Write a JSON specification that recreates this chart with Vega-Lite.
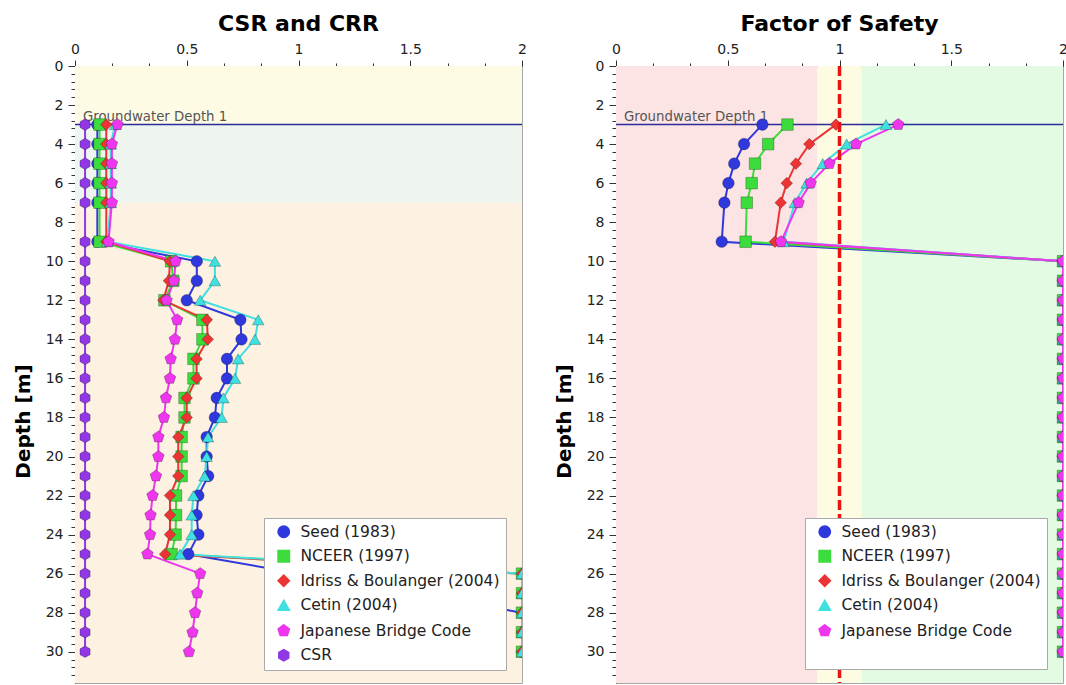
{
  "$schema": "https://vega.github.io/schema/vega-lite/v6.json",
  "background": "white",
  "padding": {"left": 12, "top": 12, "right": 0, "bottom": 0},
  "spacing": 26,
  "config": {
    "font": "DejaVu Sans",
    "view": {"stroke": "#a8a8a8", "strokeWidth": 1},
    "axis": {"labelFont": "DejaVu Sans", "labelFontSize": 14, "labelColor": "#222", "domainColor": "#333", "tickColor": "#333", "grid": false, "titleFont": "DejaVu Sans", "titleFontSize": 20, "titleFontWeight": "bold", "titleColor": "#000", "labelFlush": false, "labelOverlap": false},
    "title": {"font": "DejaVu Sans", "fontSize": 22, "fontWeight": "bold", "color": "#000", "offset": 6},
    "legend": {"labelLimit": 400}
  },
  "resolve": {"scale": {"color": "independent", "shape": "independent", "fill": "independent"}, "legend": {"color": "independent", "shape": "independent"}},
  "datasets": {
    "crr": [
      {"series": "Seed (1983)", "depth": 3, "value": 0.1},
      {"series": "Seed (1983)", "depth": 4, "value": 0.1},
      {"series": "Seed (1983)", "depth": 5, "value": 0.1},
      {"series": "Seed (1983)", "depth": 6, "value": 0.1},
      {"series": "Seed (1983)", "depth": 7, "value": 0.1},
      {"series": "Seed (1983)", "depth": 9, "value": 0.1},
      {"series": "Seed (1983)", "depth": 10, "value": 0.545},
      {"series": "Seed (1983)", "depth": 11, "value": 0.545},
      {"series": "Seed (1983)", "depth": 12, "value": 0.5},
      {"series": "Seed (1983)", "depth": 13, "value": 0.74},
      {"series": "Seed (1983)", "depth": 14, "value": 0.745},
      {"series": "Seed (1983)", "depth": 15, "value": 0.68},
      {"series": "Seed (1983)", "depth": 16, "value": 0.68},
      {"series": "Seed (1983)", "depth": 17, "value": 0.634},
      {"series": "Seed (1983)", "depth": 18, "value": 0.626},
      {"series": "Seed (1983)", "depth": 19, "value": 0.589},
      {"series": "Seed (1983)", "depth": 20, "value": 0.589},
      {"series": "Seed (1983)", "depth": 21, "value": 0.596},
      {"series": "Seed (1983)", "depth": 22, "value": 0.552},
      {"series": "Seed (1983)", "depth": 23, "value": 0.544},
      {"series": "Seed (1983)", "depth": 24, "value": 0.552},
      {"series": "Seed (1983)", "depth": 25, "value": 0.507},
      {"series": "Seed (1983)", "depth": 28, "value": 2},
      {"series": "Seed (1983)", "depth": 29, "value": 2},
      {"series": "Seed (1983)", "depth": 30, "value": 2},
      {"series": "NCEER (1997)", "depth": 3, "value": 0.11},
      {"series": "NCEER (1997)", "depth": 4, "value": 0.11},
      {"series": "NCEER (1997)", "depth": 5, "value": 0.11},
      {"series": "NCEER (1997)", "depth": 6, "value": 0.11},
      {"series": "NCEER (1997)", "depth": 7, "value": 0.11},
      {"series": "NCEER (1997)", "depth": 9, "value": 0.11},
      {"series": "NCEER (1997)", "depth": 10, "value": 0.43},
      {"series": "NCEER (1997)", "depth": 11, "value": 0.44},
      {"series": "NCEER (1997)", "depth": 12, "value": 0.4},
      {"series": "NCEER (1997)", "depth": 13, "value": 0.57},
      {"series": "NCEER (1997)", "depth": 14, "value": 0.57},
      {"series": "NCEER (1997)", "depth": 15, "value": 0.53},
      {"series": "NCEER (1997)", "depth": 16, "value": 0.53},
      {"series": "NCEER (1997)", "depth": 17, "value": 0.49},
      {"series": "NCEER (1997)", "depth": 18, "value": 0.49},
      {"series": "NCEER (1997)", "depth": 19, "value": 0.477},
      {"series": "NCEER (1997)", "depth": 20, "value": 0.477},
      {"series": "NCEER (1997)", "depth": 21, "value": 0.477},
      {"series": "NCEER (1997)", "depth": 22, "value": 0.452},
      {"series": "NCEER (1997)", "depth": 23, "value": 0.452},
      {"series": "NCEER (1997)", "depth": 24, "value": 0.45},
      {"series": "NCEER (1997)", "depth": 25, "value": 0.432},
      {"series": "NCEER (1997)", "depth": 26, "value": 2},
      {"series": "NCEER (1997)", "depth": 27, "value": 2},
      {"series": "NCEER (1997)", "depth": 28, "value": 2},
      {"series": "NCEER (1997)", "depth": 29, "value": 2},
      {"series": "NCEER (1997)", "depth": 30, "value": 2},
      {"series": "Idriss & Boulanger (2004)", "depth": 3, "value": 0.14},
      {"series": "Idriss & Boulanger (2004)", "depth": 4, "value": 0.14},
      {"series": "Idriss & Boulanger (2004)", "depth": 5, "value": 0.14},
      {"series": "Idriss & Boulanger (2004)", "depth": 6, "value": 0.14},
      {"series": "Idriss & Boulanger (2004)", "depth": 7, "value": 0.14},
      {"series": "Idriss & Boulanger (2004)", "depth": 9, "value": 0.14},
      {"series": "Idriss & Boulanger (2004)", "depth": 10, "value": 0.425},
      {"series": "Idriss & Boulanger (2004)", "depth": 11, "value": 0.42},
      {"series": "Idriss & Boulanger (2004)", "depth": 12, "value": 0.395},
      {"series": "Idriss & Boulanger (2004)", "depth": 13, "value": 0.59},
      {"series": "Idriss & Boulanger (2004)", "depth": 14, "value": 0.594},
      {"series": "Idriss & Boulanger (2004)", "depth": 15, "value": 0.544},
      {"series": "Idriss & Boulanger (2004)", "depth": 16, "value": 0.544},
      {"series": "Idriss & Boulanger (2004)", "depth": 17, "value": 0.5},
      {"series": "Idriss & Boulanger (2004)", "depth": 18, "value": 0.5},
      {"series": "Idriss & Boulanger (2004)", "depth": 19, "value": 0.462},
      {"series": "Idriss & Boulanger (2004)", "depth": 20, "value": 0.462},
      {"series": "Idriss & Boulanger (2004)", "depth": 21, "value": 0.462},
      {"series": "Idriss & Boulanger (2004)", "depth": 22, "value": 0.425},
      {"series": "Idriss & Boulanger (2004)", "depth": 23, "value": 0.425},
      {"series": "Idriss & Boulanger (2004)", "depth": 24, "value": 0.425},
      {"series": "Idriss & Boulanger (2004)", "depth": 25, "value": 0.403},
      {"series": "Idriss & Boulanger (2004)", "depth": 26, "value": 2},
      {"series": "Idriss & Boulanger (2004)", "depth": 27, "value": 2},
      {"series": "Idriss & Boulanger (2004)", "depth": 28, "value": 2},
      {"series": "Idriss & Boulanger (2004)", "depth": 29, "value": 2},
      {"series": "Idriss & Boulanger (2004)", "depth": 30, "value": 2},
      {"series": "Cetin (2004)", "depth": 3, "value": 0.18},
      {"series": "Cetin (2004)", "depth": 4, "value": 0.16},
      {"series": "Cetin (2004)", "depth": 5, "value": 0.16},
      {"series": "Cetin (2004)", "depth": 6, "value": 0.16},
      {"series": "Cetin (2004)", "depth": 7, "value": 0.16},
      {"series": "Cetin (2004)", "depth": 9, "value": 0.145},
      {"series": "Cetin (2004)", "depth": 10, "value": 0.626},
      {"series": "Cetin (2004)", "depth": 11, "value": 0.626},
      {"series": "Cetin (2004)", "depth": 12, "value": 0.56},
      {"series": "Cetin (2004)", "depth": 13, "value": 0.82},
      {"series": "Cetin (2004)", "depth": 14, "value": 0.805},
      {"series": "Cetin (2004)", "depth": 15, "value": 0.73},
      {"series": "Cetin (2004)", "depth": 16, "value": 0.716},
      {"series": "Cetin (2004)", "depth": 17, "value": 0.664},
      {"series": "Cetin (2004)", "depth": 18, "value": 0.656},
      {"series": "Cetin (2004)", "depth": 19, "value": 0.595},
      {"series": "Cetin (2004)", "depth": 20, "value": 0.589},
      {"series": "Cetin (2004)", "depth": 21, "value": 0.58},
      {"series": "Cetin (2004)", "depth": 22, "value": 0.53},
      {"series": "Cetin (2004)", "depth": 23, "value": 0.522},
      {"series": "Cetin (2004)", "depth": 24, "value": 0.522},
      {"series": "Cetin (2004)", "depth": 25, "value": 0.47},
      {"series": "Cetin (2004)", "depth": 26, "value": 2},
      {"series": "Cetin (2004)", "depth": 27, "value": 2},
      {"series": "Cetin (2004)", "depth": 28, "value": 2},
      {"series": "Cetin (2004)", "depth": 29, "value": 2},
      {"series": "Cetin (2004)", "depth": 30, "value": 2},
      {"series": "Japanese Bridge Code", "depth": 3, "value": 0.19},
      {"series": "Japanese Bridge Code", "depth": 4, "value": 0.165},
      {"series": "Japanese Bridge Code", "depth": 5, "value": 0.165},
      {"series": "Japanese Bridge Code", "depth": 6, "value": 0.165},
      {"series": "Japanese Bridge Code", "depth": 7, "value": 0.165},
      {"series": "Japanese Bridge Code", "depth": 9, "value": 0.15},
      {"series": "Japanese Bridge Code", "depth": 10, "value": 0.45},
      {"series": "Japanese Bridge Code", "depth": 11, "value": 0.443},
      {"series": "Japanese Bridge Code", "depth": 12, "value": 0.41},
      {"series": "Japanese Bridge Code", "depth": 13, "value": 0.457},
      {"series": "Japanese Bridge Code", "depth": 14, "value": 0.447},
      {"series": "Japanese Bridge Code", "depth": 15, "value": 0.428},
      {"series": "Japanese Bridge Code", "depth": 16, "value": 0.425},
      {"series": "Japanese Bridge Code", "depth": 17, "value": 0.407},
      {"series": "Japanese Bridge Code", "depth": 18, "value": 0.398},
      {"series": "Japanese Bridge Code", "depth": 19, "value": 0.373},
      {"series": "Japanese Bridge Code", "depth": 20, "value": 0.373},
      {"series": "Japanese Bridge Code", "depth": 21, "value": 0.362},
      {"series": "Japanese Bridge Code", "depth": 22, "value": 0.347},
      {"series": "Japanese Bridge Code", "depth": 23, "value": 0.338},
      {"series": "Japanese Bridge Code", "depth": 24, "value": 0.336},
      {"series": "Japanese Bridge Code", "depth": 25, "value": 0.324},
      {"series": "Japanese Bridge Code", "depth": 26, "value": 0.56},
      {"series": "Japanese Bridge Code", "depth": 27, "value": 0.547},
      {"series": "Japanese Bridge Code", "depth": 28, "value": 0.537},
      {"series": "Japanese Bridge Code", "depth": 29, "value": 0.526},
      {"series": "Japanese Bridge Code", "depth": 30, "value": 0.51},
      {"series": "CSR", "depth": 3, "value": 0.045},
      {"series": "CSR", "depth": 4, "value": 0.045},
      {"series": "CSR", "depth": 5, "value": 0.045},
      {"series": "CSR", "depth": 6, "value": 0.045},
      {"series": "CSR", "depth": 7, "value": 0.045},
      {"series": "CSR", "depth": 9, "value": 0.045},
      {"series": "CSR", "depth": 10, "value": 0.045},
      {"series": "CSR", "depth": 11, "value": 0.045},
      {"series": "CSR", "depth": 12, "value": 0.045},
      {"series": "CSR", "depth": 13, "value": 0.045},
      {"series": "CSR", "depth": 14, "value": 0.045},
      {"series": "CSR", "depth": 15, "value": 0.045},
      {"series": "CSR", "depth": 16, "value": 0.045},
      {"series": "CSR", "depth": 17, "value": 0.045},
      {"series": "CSR", "depth": 18, "value": 0.045},
      {"series": "CSR", "depth": 19, "value": 0.045},
      {"series": "CSR", "depth": 20, "value": 0.045},
      {"series": "CSR", "depth": 21, "value": 0.045},
      {"series": "CSR", "depth": 22, "value": 0.045},
      {"series": "CSR", "depth": 23, "value": 0.045},
      {"series": "CSR", "depth": 24, "value": 0.045},
      {"series": "CSR", "depth": 25, "value": 0.045},
      {"series": "CSR", "depth": 26, "value": 0.045},
      {"series": "CSR", "depth": 27, "value": 0.045},
      {"series": "CSR", "depth": 28, "value": 0.045},
      {"series": "CSR", "depth": 29, "value": 0.045},
      {"series": "CSR", "depth": 30, "value": 0.045}
    ],
    "fs": [
      {"series": "Seed (1983)", "depth": 3, "value": 0.655},
      {"series": "Seed (1983)", "depth": 4, "value": 0.573},
      {"series": "Seed (1983)", "depth": 5, "value": 0.529},
      {"series": "Seed (1983)", "depth": 6, "value": 0.503},
      {"series": "Seed (1983)", "depth": 7, "value": 0.485},
      {"series": "Seed (1983)", "depth": 9, "value": 0.473},
      {"series": "Seed (1983)", "depth": 10, "value": 2},
      {"series": "Seed (1983)", "depth": 11, "value": 2},
      {"series": "Seed (1983)", "depth": 12, "value": 2},
      {"series": "Seed (1983)", "depth": 13, "value": 2},
      {"series": "Seed (1983)", "depth": 14, "value": 2},
      {"series": "Seed (1983)", "depth": 15, "value": 2},
      {"series": "Seed (1983)", "depth": 16, "value": 2},
      {"series": "Seed (1983)", "depth": 17, "value": 2},
      {"series": "Seed (1983)", "depth": 18, "value": 2},
      {"series": "Seed (1983)", "depth": 19, "value": 2},
      {"series": "Seed (1983)", "depth": 20, "value": 2},
      {"series": "Seed (1983)", "depth": 21, "value": 2},
      {"series": "Seed (1983)", "depth": 22, "value": 2},
      {"series": "Seed (1983)", "depth": 23, "value": 2},
      {"series": "Seed (1983)", "depth": 24, "value": 2},
      {"series": "Seed (1983)", "depth": 25, "value": 2},
      {"series": "Seed (1983)", "depth": 26, "value": 2},
      {"series": "Seed (1983)", "depth": 27, "value": 2},
      {"series": "Seed (1983)", "depth": 28, "value": 2},
      {"series": "Seed (1983)", "depth": 29, "value": 2},
      {"series": "Seed (1983)", "depth": 30, "value": 2},
      {"series": "NCEER (1997)", "depth": 3, "value": 0.767},
      {"series": "NCEER (1997)", "depth": 4, "value": 0.681},
      {"series": "NCEER (1997)", "depth": 5, "value": 0.622},
      {"series": "NCEER (1997)", "depth": 6, "value": 0.607},
      {"series": "NCEER (1997)", "depth": 7, "value": 0.585},
      {"series": "NCEER (1997)", "depth": 9, "value": 0.58},
      {"series": "NCEER (1997)", "depth": 10, "value": 2},
      {"series": "NCEER (1997)", "depth": 11, "value": 2},
      {"series": "NCEER (1997)", "depth": 12, "value": 2},
      {"series": "NCEER (1997)", "depth": 13, "value": 2},
      {"series": "NCEER (1997)", "depth": 14, "value": 2},
      {"series": "NCEER (1997)", "depth": 15, "value": 2},
      {"series": "NCEER (1997)", "depth": 16, "value": 2},
      {"series": "NCEER (1997)", "depth": 17, "value": 2},
      {"series": "NCEER (1997)", "depth": 18, "value": 2},
      {"series": "NCEER (1997)", "depth": 19, "value": 2},
      {"series": "NCEER (1997)", "depth": 20, "value": 2},
      {"series": "NCEER (1997)", "depth": 21, "value": 2},
      {"series": "NCEER (1997)", "depth": 22, "value": 2},
      {"series": "NCEER (1997)", "depth": 23, "value": 2},
      {"series": "NCEER (1997)", "depth": 24, "value": 2},
      {"series": "NCEER (1997)", "depth": 25, "value": 2},
      {"series": "NCEER (1997)", "depth": 26, "value": 2},
      {"series": "NCEER (1997)", "depth": 27, "value": 2},
      {"series": "NCEER (1997)", "depth": 28, "value": 2},
      {"series": "NCEER (1997)", "depth": 29, "value": 2},
      {"series": "NCEER (1997)", "depth": 30, "value": 2},
      {"series": "Idriss & Boulanger (2004)", "depth": 3, "value": 0.984},
      {"series": "Idriss & Boulanger (2004)", "depth": 4, "value": 0.865},
      {"series": "Idriss & Boulanger (2004)", "depth": 5, "value": 0.805},
      {"series": "Idriss & Boulanger (2004)", "depth": 6, "value": 0.764},
      {"series": "Idriss & Boulanger (2004)", "depth": 7, "value": 0.737},
      {"series": "Idriss & Boulanger (2004)", "depth": 9, "value": 0.711},
      {"series": "Idriss & Boulanger (2004)", "depth": 10, "value": 2},
      {"series": "Idriss & Boulanger (2004)", "depth": 11, "value": 2},
      {"series": "Idriss & Boulanger (2004)", "depth": 12, "value": 2},
      {"series": "Idriss & Boulanger (2004)", "depth": 13, "value": 2},
      {"series": "Idriss & Boulanger (2004)", "depth": 14, "value": 2},
      {"series": "Idriss & Boulanger (2004)", "depth": 15, "value": 2},
      {"series": "Idriss & Boulanger (2004)", "depth": 16, "value": 2},
      {"series": "Idriss & Boulanger (2004)", "depth": 17, "value": 2},
      {"series": "Idriss & Boulanger (2004)", "depth": 18, "value": 2},
      {"series": "Idriss & Boulanger (2004)", "depth": 19, "value": 2},
      {"series": "Idriss & Boulanger (2004)", "depth": 20, "value": 2},
      {"series": "Idriss & Boulanger (2004)", "depth": 21, "value": 2},
      {"series": "Idriss & Boulanger (2004)", "depth": 22, "value": 2},
      {"series": "Idriss & Boulanger (2004)", "depth": 23, "value": 2},
      {"series": "Idriss & Boulanger (2004)", "depth": 24, "value": 2},
      {"series": "Idriss & Boulanger (2004)", "depth": 25, "value": 2},
      {"series": "Idriss & Boulanger (2004)", "depth": 26, "value": 2},
      {"series": "Idriss & Boulanger (2004)", "depth": 27, "value": 2},
      {"series": "Idriss & Boulanger (2004)", "depth": 28, "value": 2},
      {"series": "Idriss & Boulanger (2004)", "depth": 29, "value": 2},
      {"series": "Idriss & Boulanger (2004)", "depth": 30, "value": 2},
      {"series": "Cetin (2004)", "depth": 3, "value": 1.208},
      {"series": "Cetin (2004)", "depth": 4, "value": 1.032},
      {"series": "Cetin (2004)", "depth": 5, "value": 0.925},
      {"series": "Cetin (2004)", "depth": 6, "value": 0.853},
      {"series": "Cetin (2004)", "depth": 7, "value": 0.8},
      {"series": "Cetin (2004)", "depth": 9, "value": 0.75},
      {"series": "Cetin (2004)", "depth": 10, "value": 2},
      {"series": "Cetin (2004)", "depth": 11, "value": 2},
      {"series": "Cetin (2004)", "depth": 12, "value": 2},
      {"series": "Cetin (2004)", "depth": 13, "value": 2},
      {"series": "Cetin (2004)", "depth": 14, "value": 2},
      {"series": "Cetin (2004)", "depth": 15, "value": 2},
      {"series": "Cetin (2004)", "depth": 16, "value": 2},
      {"series": "Cetin (2004)", "depth": 17, "value": 2},
      {"series": "Cetin (2004)", "depth": 18, "value": 2},
      {"series": "Cetin (2004)", "depth": 19, "value": 2},
      {"series": "Cetin (2004)", "depth": 20, "value": 2},
      {"series": "Cetin (2004)", "depth": 21, "value": 2},
      {"series": "Cetin (2004)", "depth": 22, "value": 2},
      {"series": "Cetin (2004)", "depth": 23, "value": 2},
      {"series": "Cetin (2004)", "depth": 24, "value": 2},
      {"series": "Cetin (2004)", "depth": 25, "value": 2},
      {"series": "Cetin (2004)", "depth": 26, "value": 2},
      {"series": "Cetin (2004)", "depth": 27, "value": 2},
      {"series": "Cetin (2004)", "depth": 28, "value": 2},
      {"series": "Cetin (2004)", "depth": 29, "value": 2},
      {"series": "Cetin (2004)", "depth": 30, "value": 2},
      {"series": "Japanese Bridge Code", "depth": 3, "value": 1.263},
      {"series": "Japanese Bridge Code", "depth": 4, "value": 1.074},
      {"series": "Japanese Bridge Code", "depth": 5, "value": 0.955},
      {"series": "Japanese Bridge Code", "depth": 6, "value": 0.871},
      {"series": "Japanese Bridge Code", "depth": 7, "value": 0.817},
      {"series": "Japanese Bridge Code", "depth": 9, "value": 0.738},
      {"series": "Japanese Bridge Code", "depth": 10, "value": 2},
      {"series": "Japanese Bridge Code", "depth": 11, "value": 2},
      {"series": "Japanese Bridge Code", "depth": 12, "value": 2},
      {"series": "Japanese Bridge Code", "depth": 13, "value": 2},
      {"series": "Japanese Bridge Code", "depth": 14, "value": 2},
      {"series": "Japanese Bridge Code", "depth": 15, "value": 2},
      {"series": "Japanese Bridge Code", "depth": 16, "value": 2},
      {"series": "Japanese Bridge Code", "depth": 17, "value": 2},
      {"series": "Japanese Bridge Code", "depth": 18, "value": 2},
      {"series": "Japanese Bridge Code", "depth": 19, "value": 2},
      {"series": "Japanese Bridge Code", "depth": 20, "value": 2},
      {"series": "Japanese Bridge Code", "depth": 21, "value": 2},
      {"series": "Japanese Bridge Code", "depth": 22, "value": 2},
      {"series": "Japanese Bridge Code", "depth": 23, "value": 2},
      {"series": "Japanese Bridge Code", "depth": 24, "value": 2},
      {"series": "Japanese Bridge Code", "depth": 25, "value": 2},
      {"series": "Japanese Bridge Code", "depth": 26, "value": 2},
      {"series": "Japanese Bridge Code", "depth": 27, "value": 2},
      {"series": "Japanese Bridge Code", "depth": 28, "value": 2},
      {"series": "Japanese Bridge Code", "depth": 29, "value": 2},
      {"series": "Japanese Bridge Code", "depth": 30, "value": 2}
    ]
  },
  "hconcat": [
    {
      "title": "CSR and CRR",
      "width": 447,
      "height": 617,
      "layer": [
        {
          "data": {"values": [{"zone": "above", "top": 0, "bottom": 3}, {"zone": "upper", "top": 3, "bottom": 7}, {"zone": "lower", "top": 7, "bottom": 31.6}]},
          "mark": {"type": "rect"},
          "encoding": {
            "x": {"datum": 0, "type": "quantitative", "title": null, "scale": {"domain": [0, 2], "nice": false, "zero": false},
              "axis": {"orient": "top", "title": null, "labelOverlap": false, "tickCount": 1000, "values": [0, 0.16667, 0.33333, 0.5, 0.66667, 0.83333, 1, 1.16667, 1.33333, 1.5, 1.66667, 1.83333, 2],
                "labelExpr": "abs(datum.value*2-round(datum.value*2))<0.001 ? toString(round(datum.value*2)/2) : ''",
                "tickSize": {"condition": {"test": "abs(datum.value*2-round(datum.value*2))<0.001", "value": 6}, "value": 3}, "labelPadding": 4}},
            "x2": {"datum": 2},
            "y": {"field": "top", "type": "quantitative", "title": "Depth [m]", "scale": {"domain": [0, 31.6], "reverse": true, "nice": false, "zero": false},
              "axis": {"orient": "left", "title": "Depth [m]", "titlePadding": 12, "titleY": 355, "labelOverlap": false, "tickCount": 1000,
                "values": [0,0.4,0.8,1.2,1.6,2,2.4,2.8,3.2,3.6,4,4.4,4.8,5.2,5.6,6,6.4,6.8,7.2,7.6,8,8.4,8.8,9.2,9.6,10,10.4,10.8,11.2,11.6,12,12.4,12.8,13.2,13.6,14,14.4,14.8,15.2,15.6,16,16.4,16.8,17.2,17.6,18,18.4,18.8,19.2,19.6,20,20.4,20.8,21.2,21.6,22,22.4,22.8,23.2,23.6,24,24.4,24.8,25.2,25.6,26,26.4,26.8,27.2,27.6,28,28.4,28.8,29.2,29.6,30,30.4,30.8,31.2],
                "labelExpr": "datum.value % 2 === 0 ? toString(datum.value) : ''",
                "tickSize": {"condition": {"test": "datum.value % 2 === 0", "value": 7}, "value": 4}, "labelPadding": 5}},
            "y2": {"field": "bottom"},
            "fill": {"field": "zone", "type": "nominal", "scale": {"domain": ["above", "upper", "lower"], "range": ["#fdfbe3", "#edf5ee", "#fdf1e2"]}, "legend": null}
          }
        },
        {
          "data": {"values": [{"label": "Groundwater Depth 1", "depth": 3}]},
          "mark": {"type": "rule", "color": "#2b2b9c", "strokeWidth": 1.5},
          "encoding": {"y": {"field": "depth", "type": "quantitative", "title": "Depth [m]"}}
        },
        {
          "data": {"values": [{"label": "Groundwater Depth 1", "depth": 3}]},
          "mark": {"type": "text", "align": "left", "baseline": "alphabetic", "dx": 8, "dy": -4, "fontSize": 13.3, "color": "#555"},
          "encoding": {"x": {"datum": 0, "type": "quantitative", "title": null}, "y": {"field": "depth", "type": "quantitative", "title": "Depth [m]"}, "text": {"field": "label"}}
        },
        {
          "data": {"name": "crr"},
          "mark": {"type": "line", "strokeWidth": 2, "clip": true, "point": {"filled": true, "size": 135, "stroke": "#000", "strokeOpacity": 0.25, "strokeWidth": 1, "clip": true}},
          "encoding": {
            "x": {"field": "value", "type": "quantitative", "title": null},
            "y": {"field": "depth", "type": "quantitative", "title": "Depth [m]"},
            "order": {"field": "depth"},
            "color": {"field": "series", "type": "nominal",
              "scale": {"domain": ["Seed (1983)", "NCEER (1997)", "Idriss & Boulanger (2004)", "Cetin (2004)", "Japanese Bridge Code", "CSR"], "range": ["#2f38dc", "#3cdc3c", "#ec3434", "#3ee0e0", "#ee36ee", "#9038e6"]},
              "legend": {"orient": "none", "legendX": 189, "legendY": 452, "title": null, "fillColor": "white", "strokeColor": "#aaa", "padding": 6, "labelFontSize": 15.5, "labelFont": "DejaVu Sans", "labelColor": "#222", "symbolSize": 130, "rowPadding": 6.5, "symbolOffset": 6, "labelOffset": 9, "labelLimit": 400}},
            "shape": {"field": "series", "type": "nominal",
              "scale": {"domain": ["Seed (1983)", "NCEER (1997)", "Idriss & Boulanger (2004)", "Cetin (2004)", "Japanese Bridge Code", "CSR"], "range": ["circle", "square", "diamond", "triangle-up", "M0,-1.05L1,-0.32L0.62,0.85L-0.62,0.85L-1,-0.32Z", "M0,-1L0.87,-0.5L0.87,0.5L0,1L-0.87,0.5L-0.87,-0.5Z"]},
              "legend": {"orient": "none", "legendX": 189, "legendY": 452, "title": null, "fillColor": "white", "strokeColor": "#aaa", "padding": 6, "labelFontSize": 15.5, "labelFont": "DejaVu Sans", "labelColor": "#222", "symbolSize": 130, "rowPadding": 6.5, "symbolOffset": 6, "labelOffset": 9, "labelLimit": 400}}
          }
        }
      ]
    },
    {
      "title": "Factor of Safety",
      "width": 447,
      "height": 617,
      "layer": [
        {
          "data": {"values": [{"zone": "unsafe", "from": 0, "to": 0.9}, {"zone": "marginal", "from": 0.9, "to": 1.1}, {"zone": "safe", "from": 1.1, "to": 2}]},
          "mark": {"type": "rect"},
          "encoding": {
            "x": {"field": "from", "type": "quantitative", "title": null, "scale": {"domain": [0, 2], "nice": false, "zero": false},
              "axis": {"orient": "top", "title": null, "labelOverlap": false, "tickCount": 1000, "values": [0, 0.16667, 0.33333, 0.5, 0.66667, 0.83333, 1, 1.16667, 1.33333, 1.5, 1.66667, 1.83333, 2],
                "labelExpr": "abs(datum.value*2-round(datum.value*2))<0.001 ? toString(round(datum.value*2)/2) : ''",
                "tickSize": {"condition": {"test": "abs(datum.value*2-round(datum.value*2))<0.001", "value": 6}, "value": 3}, "labelPadding": 4}},
            "x2": {"field": "to"},
            "y": {"datum": 0, "type": "quantitative", "title": "Depth [m]", "scale": {"domain": [0, 31.6], "reverse": true, "nice": false, "zero": false},
              "axis": {"orient": "left", "title": "Depth [m]", "titlePadding": 12, "titleY": 355, "labelOverlap": false, "tickCount": 1000,
                "values": [0,0.4,0.8,1.2,1.6,2,2.4,2.8,3.2,3.6,4,4.4,4.8,5.2,5.6,6,6.4,6.8,7.2,7.6,8,8.4,8.8,9.2,9.6,10,10.4,10.8,11.2,11.6,12,12.4,12.8,13.2,13.6,14,14.4,14.8,15.2,15.6,16,16.4,16.8,17.2,17.6,18,18.4,18.8,19.2,19.6,20,20.4,20.8,21.2,21.6,22,22.4,22.8,23.2,23.6,24,24.4,24.8,25.2,25.6,26,26.4,26.8,27.2,27.6,28,28.4,28.8,29.2,29.6,30,30.4,30.8,31.2],
                "labelExpr": "datum.value % 2 === 0 ? toString(datum.value) : ''",
                "tickSize": {"condition": {"test": "datum.value % 2 === 0", "value": 7}, "value": 4}, "labelPadding": 5}},
            "y2": {"datum": 31.6},
            "fill": {"field": "zone", "type": "nominal", "scale": {"domain": ["unsafe", "marginal", "safe"], "range": ["#fde4e4", "#fdfbe1", "#e4fbe3"]}, "legend": null}
          }
        },
        {
          "data": {"values": [{"label": "Groundwater Depth 1", "depth": 3}]},
          "mark": {"type": "rule", "color": "#2b2b9c", "strokeWidth": 1.5},
          "encoding": {"y": {"field": "depth", "type": "quantitative", "title": "Depth [m]"}}
        },
        {
          "data": {"values": [{"label": "Groundwater Depth 1", "depth": 3}]},
          "mark": {"type": "text", "align": "left", "baseline": "alphabetic", "dx": 8, "dy": -4, "fontSize": 13.3, "color": "#555"},
          "encoding": {"x": {"datum": 0, "type": "quantitative", "title": null}, "y": {"field": "depth", "type": "quantitative", "title": "Depth [m]"}, "text": {"field": "label"}}
        },
        {
          "data": {"name": "fs"},
          "mark": {"type": "line", "strokeWidth": 2, "clip": true, "point": {"filled": true, "size": 135, "stroke": "#000", "strokeOpacity": 0.25, "strokeWidth": 1, "clip": true}},
          "encoding": {
            "x": {"field": "value", "type": "quantitative", "title": null},
            "y": {"field": "depth", "type": "quantitative", "title": "Depth [m]"},
            "order": {"field": "depth"},
            "color": {"field": "series", "type": "nominal",
              "scale": {"domain": ["Seed (1983)", "NCEER (1997)", "Idriss & Boulanger (2004)", "Cetin (2004)", "Japanese Bridge Code", "CSR"], "range": ["#2f38dc", "#3cdc3c", "#ec3434", "#3ee0e0", "#ee36ee", "#9038e6"]},
              "legend": {"orient": "none", "legendX": 189, "legendY": 452, "title": null, "fillColor": "white", "strokeColor": "#aaa", "padding": 6, "labelFontSize": 15.5, "labelFont": "DejaVu Sans", "labelColor": "#222", "symbolSize": 130, "rowPadding": 6.5, "symbolOffset": 6, "labelOffset": 9, "labelLimit": 400,
                "encode": {"symbols": {"update": {"opacity": {"signal": "datum.value === 'CSR' ? 0 : 1"}}}, "labels": {"update": {"opacity": {"signal": "datum.value === 'CSR' ? 0 : 1"}}}}}},
            "shape": {"field": "series", "type": "nominal",
              "scale": {"domain": ["Seed (1983)", "NCEER (1997)", "Idriss & Boulanger (2004)", "Cetin (2004)", "Japanese Bridge Code", "CSR"], "range": ["circle", "square", "diamond", "triangle-up", "M0,-1.05L1,-0.32L0.62,0.85L-0.62,0.85L-1,-0.32Z", "M0,-1L0.87,-0.5L0.87,0.5L0,1L-0.87,0.5L-0.87,-0.5Z"]},
              "legend": {"orient": "none", "legendX": 189, "legendY": 452, "title": null, "fillColor": "white", "strokeColor": "#aaa", "padding": 6, "labelFontSize": 15.5, "labelFont": "DejaVu Sans", "labelColor": "#222", "symbolSize": 130, "rowPadding": 6.5, "symbolOffset": 6, "labelOffset": 9, "labelLimit": 400,
                "encode": {"symbols": {"update": {"opacity": {"signal": "datum.value === 'CSR' ? 0 : 1"}}}, "labels": {"update": {"opacity": {"signal": "datum.value === 'CSR' ? 0 : 1"}}}}}}
          }
        },
        {
          "data": {"values": [{"fs": 1}]},
          "mark": {"type": "rule", "color": "#e81414", "strokeWidth": 3.5, "strokeDash": [10, 4]},
          "encoding": {"x": {"field": "fs", "type": "quantitative", "title": null}}
        }
      ]
    }
  ]
}
